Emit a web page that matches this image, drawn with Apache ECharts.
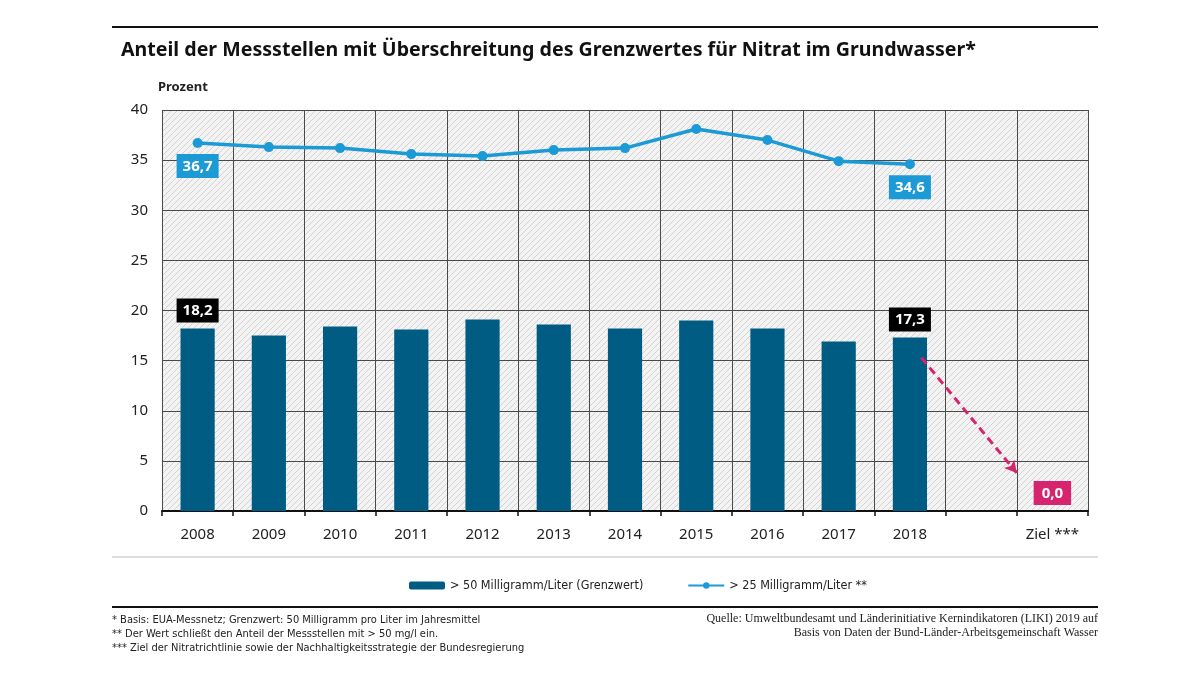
<!DOCTYPE html>
<html lang="de">
<head>
    <meta charset="UTF-8">
    <title>Nitrat im Grundwasser</title>
    <style>
        html, body { margin: 0; padding: 0; background: #fff; }
    </style>
</head>
<body>
<div id="main" style="width: 1200px;height:675px;"></div>
<script src="https://cdn.jsdelivr.net/npm/echarts@6/dist/echarts.min.js"></script>
<script>
    // Kategorien (leere Spalte vor dem Ziel)
    var years = ['2008', '2009', '2010', '2011', '2012', '2013', '2014', '2015', '2016', '2017', '2018', '', 'Ziel ***'];
    // > 50 mg/l (Grenzwert)
    var over50 = [18.2, 17.5, 18.4, 18.1, 19.1, 18.6, 18.2, 19.0, 18.2, 16.9, 17.3, null, null];
    // > 25 mg/l
    var over25 = [36.7, 36.3, 36.2, 35.6, 35.4, 36.0, 36.2, 38.1, 37.0, 34.9, 34.6, null, null];
    // Zielwert
    var target = [null, null, null, null, null, null, null, null, null, null, null, null, 0];
    // Pfeil 2018 -> Ziel (x in Spaltenbreiten, y in Prozent)
    var arrowFrom = [10.66, 15.3];
    var arrowTo = [12.0, 3.8];
    var yTicks = { min: 0, max: 40, interval: 5 };

    var labelIdx = [0, 10];  // nur erster und letzter Wert beschriftet

    function hatch() {
        var c = document.createElement('canvas');
        c.width = 6; c.height = 6;
        var g = c.getContext('2d');
        g.fillStyle = '#f3f3f3';
        g.fillRect(0, 0, 6, 6);
        g.strokeStyle = '#d2d2d2';
        g.lineWidth = 1;
        g.beginPath();
        g.moveTo(0, 6); g.lineTo(6, 0);
        g.moveTo(-3, 3); g.lineTo(3, -3);
        g.moveTo(3, 9); g.lineTo(9, 3);
        g.stroke();
        return c;
    }

    function fmt(v) { return String(v.toFixed(1)).replace('.', ','); }

    var barData = over50.map(function (v, i) {
        if (labelIdx.indexOf(i) < 0) return v;
        return { value: v, label: { show: true } };
    });
    var lineData = over25.map(function (v, i) {
        if (labelIdx.indexOf(i) < 0) return v;
        return { value: v, label: { show: true } };
    });

    var myChart = echarts.init(document.getElementById('main'));
    var narrow = '"Liberation Sans Narrow", "DejaVu Sans Condensed", sans-serif';
    var main = '"Noto Sans", "Open Sans", sans-serif';

    var option = {
        backgroundColor: '#fff',
        animation: false,
        textStyle: { fontFamily: main },
        title: {
            text: 'Anteil der Messstellen mit Überschreitung des Grenzwertes für Nitrat im Grundwasser*',
            left: 116, top: 35,
            textStyle: { fontSize: 19.6, fontWeight: 'bold', color: '#111', fontFamily: main }
        },
        legend: {
            left: 404, top: 574,
            itemWidth: 36, itemHeight: 8, itemGap: 44,
            textStyle: { fontSize: 12.5, color: '#222', fontFamily: narrow },
            data: ['> 50 Milligramm/Liter (Grenzwert)', '> 25 Milligramm/Liter **']
        },
        grid: {
            left: 162, right: 112, top: 110, bottom: 164,
            show: true,
            borderWidth: 0,
            backgroundColor: { image: hatch(), repeat: 'repeat' }
        },
        xAxis: [
            {
                type: 'category',
                data: years,
                axisLine: { lineStyle: { color: '#111', width: 2 } },
                axisTick: { show: true, length: 5, lineStyle: { color: '#111', width: 1.5 } },
                axisLabel: { fontSize: 15, color: '#222', margin: 16 },
                splitLine: { show: true, lineStyle: { color: '#4a4a4a', width: 1 } }
            },
            {
                type: 'value', min: 0, max: 13, show: false
            }
        ],
        yAxis: {
            type: 'value',
            min: yTicks.min, max: yTicks.max, interval: yTicks.interval,
            name: 'Prozent',
            nameLocation: 'end',
            nameGap: 16,
            nameTextStyle: { align: 'left', fontSize: 13, fontWeight: 'bold', color: '#222', padding: [0, 0, 0, -4] },
            axisLine: { show: false },
            axisTick: { show: false },
            axisLabel: { fontSize: 15, color: '#222', margin: 14 },
            splitLine: { lineStyle: { color: '#4a4a4a', width: 1 } }
        },
        series: [
            {
                name: '> 50 Milligramm/Liter (Grenzwert)',
                type: 'bar',
                barWidth: '48%',
                itemStyle: { color: '#005c83' },
                label: {
                    show: false, position: 'top', distance: 6,
                    backgroundColor: '#000', color: '#fff',
                    fontSize: 15, fontWeight: 'bold', padding: [5, 6, 4, 6],
                    formatter: function (p) { return fmt(p.value); }
                },
                data: barData
            },
            {
                name: 'Ziel',
                type: 'bar',
                barWidth: '48%',
                barGap: '-100%',
                itemStyle: { color: '#d6246e' },
                label: {
                    show: true, position: 'top', distance: 6,
                    backgroundColor: '#d6246e', color: '#fff',
                    fontSize: 15, fontWeight: 'bold', padding: [5, 8, 4, 8],
                    formatter: function (p) { return fmt(p.value); }
                },
                data: target
            },
            {
                name: '> 25 Milligramm/Liter **',
                type: 'line',
                symbol: 'circle',
                symbolSize: 10,
                itemStyle: { color: '#1b9ad6' },
                lineStyle: { color: '#1b9ad6', width: 3.5 },
                label: {
                    show: false, position: 'bottom', distance: 6,
                    backgroundColor: '#1b9ad6', color: '#fff',
                    fontSize: 15, fontWeight: 'bold', padding: [5, 6, 4, 6],
                    formatter: function (p) { return fmt(p.value); }
                },
                data: lineData
            },
            {
                name: 'Pfeil',
                type: 'line',
                xAxisIndex: 1,
                data: [],
                silent: true,
                markLine: {
                    silent: true,
                    symbol: ['none', 'arrow'],
                    symbolSize: [10, 12],
                    label: { show: false },
                    lineStyle: { color: '#d6246e', type: [8, 5], width: 3 },
                    data: [[{ coord: arrowFrom }, { coord: arrowTo }]]
                }
            }
        ],
        graphic: [
            { type: 'line', shape: { x1: 112, y1: 27, x2: 1098, y2: 27 }, style: { stroke: '#111', lineWidth: 2 } },
            { type: 'line', shape: { x1: 112, y1: 557, x2: 1098, y2: 557 }, style: { stroke: '#bbb', lineWidth: 1 } },
            { type: 'line', shape: { x1: 112, y1: 607, x2: 1098, y2: 607 }, style: { stroke: '#111', lineWidth: 2 } },
            {
                type: 'text', left: 112, top: 613,
                style: {
                    text: '* Basis: EUA-Messnetz; Grenzwert: 50 Milligramm pro Liter im Jahresmittel\n** Der Wert schließt den Anteil der Messstellen mit > 50 mg/l ein.\n*** Ziel der Nitratrichtlinie sowie der Nachhaltigkeitsstrategie der Bundesregierung',
                    font: '11px ' + narrow, fill: '#222', lineHeight: 14
                }
            },
            {
                type: 'text', right: 102, top: 613,
                style: {
                    text: 'Quelle: Umweltbundesamt und Länderinitiative Kernindikatoren (LIKI) 2019 auf',
                    font: '12px "Liberation Serif", serif', fill: '#222'
                }
            },
            {
                type: 'text', right: 102, top: 627,
                style: {
                    text: 'Basis von Daten der Bund-Länder-Arbeitsgemeinschaft Wasser',
                    font: '12px "Liberation Serif", serif', fill: '#222'
                }
            }
        ]
    };

    myChart.setOption(option);
</script>
</body>
</html>
